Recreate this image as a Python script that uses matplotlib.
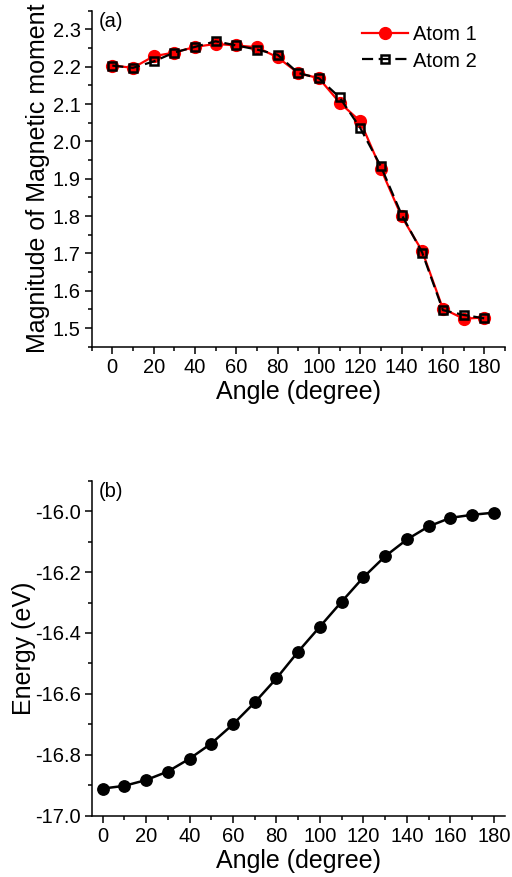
import matplotlib
matplotlib.use('Agg')
import matplotlib.pyplot as plt
from matplotlib.ticker import MultipleLocator, FormatStrFormatter

plt.rcParams['font.family'] = ['Liberation Sans', 'DejaVu Sans']

# rotation angle (degree)
angle = [0, 10, 20, 30, 40, 50, 60, 70, 80, 90,
         100, 110, 120, 130, 140, 150, 160, 170, 180]

# magnetic moment of both atoms
atom1 = [2.203, 2.197, 2.228, 2.238, 2.253, 2.261, 2.257, 2.252, 2.225, 2.183,
         2.169, 2.104, 2.054, 1.926, 1.799, 1.706, 1.552, 1.525, 1.528]
atom2 = [2.203, 2.197, 2.214, 2.238, 2.253, 2.268, 2.257, 2.246, 2.232, 2.183,
         2.169, 2.118, 2.036, 1.933, 1.804, 1.702, 1.548, 1.535, 1.526]

# total energy (eV)
energy = [-16.911, -16.902, -16.883, -16.855, -16.813, -16.763, -16.700, -16.628,
          -16.549, -16.461, -16.379, -16.297, -16.217, -16.148, -16.093, -16.050,
          -16.022, -16.012, -16.005]

TICK_FS = 14.5
LABEL_FS = 18


def style_axes(ax):
	for s in ('top', 'right'):
		ax.spines[s].set_visible(False)
	for s in ('left', 'bottom'):
		ax.spines[s].set_linewidth(1.1)
	ax.tick_params(which='major', direction='out', length=5, width=1.1, labelsize=TICK_FS, pad=3)
	ax.tick_params(which='minor', direction='out', length=3, width=1.1)
	ax.xaxis.set_major_locator(MultipleLocator(20))
	ax.xaxis.set_minor_locator(MultipleLocator(10))
	ax.yaxis.set_major_formatter(FormatStrFormatter('%.1f'))


fig = plt.figure(figsize=(5.12, 8.77), dpi=100)

# (a) magnetic moment
ax1 = fig.add_axes([0.179, 0.6047, 0.807, 0.3831])
ax1.plot(angle, atom1, '-o', color='red', lw=1.6, ms=8.5, mec='red', mfc='red',
		 label='Atom 1', zorder=2)
ax1.plot(angle, atom2, '--s', color='black', lw=1.6, ms=6.3, mec='black', mfc='none',
		 mew=1.8, dashes=(5, 2.5), label='Atom 2', zorder=3)
ax1.set_xlim(-10, 190)
ax1.set_ylim(1.45, 2.35)
ax1.yaxis.set_major_locator(MultipleLocator(0.1))
ax1.yaxis.set_minor_locator(MultipleLocator(0.05))
style_axes(ax1)
ax1.set_xlabel('Angle (degree)', fontsize=LABEL_FS, labelpad=2)
ax1.set_ylabel('Magnitude of Magnetic moment', fontsize=LABEL_FS)
ax1.yaxis.set_label_coords(-0.10, 0.5)
ax1.text(0.018, 0.997, '(a)', transform=ax1.transAxes, fontsize=14.5, va='top', ha='left')
ax1.legend(loc='upper left', bbox_to_anchor=(0.655, 0.956), frameon=False,
		   fontsize=14.5, handlelength=2.25, handletextpad=0.25, labelspacing=0.35,
		   borderpad=0, borderaxespad=0)

# (b) energy
ax2 = fig.add_axes([0.179, 0.0699, 0.807, 0.3820])
ax2.plot(angle, energy, '-o', color='black', lw=1.8, ms=8.2)
ax2.set_xlim(-5, 185)
ax2.set_ylim(-17.0, -15.9)
ax2.yaxis.set_major_locator(MultipleLocator(0.2))
ax2.yaxis.set_minor_locator(MultipleLocator(0.1))
style_axes(ax2)
ax2.set_xlabel('Angle (degree)', fontsize=LABEL_FS, labelpad=2)
ax2.set_ylabel('Energy (eV)', fontsize=LABEL_FS)
ax2.yaxis.set_label_coords(-0.134, 0.5)
ax2.text(0.018, 0.997, '(b)', transform=ax2.transAxes, fontsize=14.5, va='top', ha='left')

fig.savefig('out.png', dpi=100)
